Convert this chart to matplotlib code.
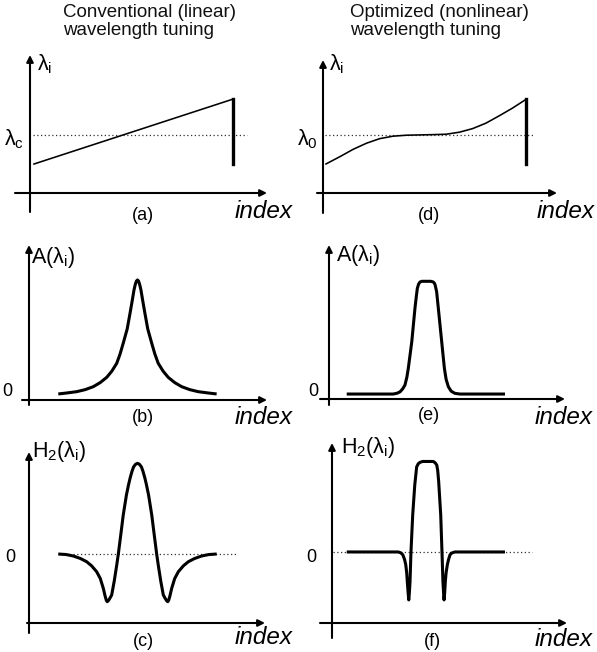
import matplotlib
matplotlib.use('Agg')
import matplotlib.pyplot as plt

plt.rcParams['font.family'] = ['Liberation Sans', 'DejaVu Sans']
plt.rcParams['mathtext.fontset'] = 'custom'
plt.rcParams['mathtext.rm'] = 'Liberation Sans'
plt.rcParams['mathtext.it'] = 'Liberation Sans:italic'

# --- data read off the schematic (index 0..100, normalised values) ---
# (a) conventional linear tuning
a_idx = [0, 100]
a_lam = [0.50, 1.62]
a_reset_idx = [100, 100]
a_reset_lam = [1.62, 0.50]

# (d) optimised nonlinear tuning
d_idx = [0, 6.95, 13.6, 20.2, 26.8, 33.4, 40.1, 46.7, 53.3, 60.0, 66.6, 73.2, 79.8, 86.4, 93.0, 100]
d_lam = [0.50, 0.626, 0.753, 0.857, 0.936, 0.978, 0.995, 1.0, 1.005, 1.012, 1.047, 1.109, 1.202, 1.328, 1.460, 1.616]
d_reset_idx = [100, 100]
d_reset_lam = [1.616, 0.50]

# (b) lorentzian-like amplitude
b_idx = [0, 5, 11.6, 17, 22.1, 26.5, 30.6, 33.8, 36.9, 39.0, 41.0, 43.5, 45.3, 46.7, 47.8, 48.6, 49.3, 50,
         50.7, 51.4, 52.2, 53.3, 54.7, 56.5, 59.0, 61.0, 63.1, 66.2, 69.4, 73.5, 77.9, 83, 88.4, 95, 100]
b_amp = [0.0, 0.008, 0.02, 0.038, 0.064, 0.10, 0.146, 0.20, 0.269, 0.35, 0.445, 0.57, 0.708, 0.82, 0.912, 0.96, 0.99, 1.0,
         0.99, 0.96, 0.912, 0.82, 0.708, 0.57, 0.445, 0.35, 0.269, 0.20, 0.146, 0.10, 0.064, 0.038, 0.02, 0.008, 0.0]

# (c) second derivative of (b)
c_idx = [0, 5, 9.5, 14, 17.9, 21, 24.2, 26.5, 28.4, 29.5, 30.3, 30.9, 31.6, 32.5, 33.7, 35.3, 36.9, 37.9,
         39.5, 41.0, 43.0, 44.3, 45.3, 46.5, 47.5, 48.8, 50,
         51.2, 52.5, 53.5, 54.7, 55.7, 57.0, 59.0, 60.5, 62.1, 63.1, 64.7, 66.3, 67.5, 68.4, 69.1, 69.7,
         70.5, 71.6, 73.5, 75.8, 79, 82.1, 86, 90.5, 95, 100]
c_h2 = [0, -0.006, -0.022, -0.05, -0.085, -0.13, -0.195, -0.27, -0.378, -0.46, -0.51, -0.526, -0.515, -0.49, -0.452, -0.30, -0.121, 0,
        0.22, 0.43, 0.65, 0.76, 0.835, 0.91, 0.96, 0.99, 1.0,
        0.99, 0.96, 0.91, 0.835, 0.76, 0.65, 0.43, 0.22, 0, -0.121, -0.30, -0.452, -0.49, -0.515, -0.526, -0.51,
        -0.46, -0.378, -0.27, -0.195, -0.13, -0.085, -0.05, -0.022, -0.006, 0]

# (e) flat-top amplitude
e_idx = [0, 29.4, 32.0, 33.7, 35.3, 36.8, 38.0, 38.9, 41.1, 43.1, 44.0, 44.6, 45.4, 46.3, 47.5, 53.0,
         54.5, 55.3, 55.8, 56.8, 58.3, 60.0, 61.7, 62.8, 64.2, 66.0, 68.4, 71.6, 100]
e_amp = [0, 0, 0.008, 0.02, 0.045, 0.08, 0.15, 0.228, 0.464, 0.76, 0.87, 0.937, 0.975, 0.994, 1.0, 1.0,
         0.995, 0.985, 0.97, 0.908, 0.701, 0.464, 0.228, 0.13, 0.065, 0.025, 0.006, 0, 0]

# (f) second derivative of (e)
f_idx = [0, 32.6, 34.2, 35.4, 36.5, 37.3, 37.9, 38.3, 38.8, 39.2, 39.6, 40.0, 40.6, 41.7, 43.0, 44.2, 45.2,
         46.3, 48.0, 54.7, 55.9, 56.9, 57.5, 58.1, 59.4, 60.2, 60.8, 61.2, 61.5, 61.9, 62.3, 62.8, 63.6,
         64.4, 65.3, 66.6, 68.4, 100]
f_h2 = [0, 0, -0.01, -0.03, -0.08, -0.14, -0.23, -0.33, -0.45, -0.53, -0.45, -0.33, 0, 0.41, 0.74, 0.94, 0.975,
        0.99, 1.0, 1.0, 0.985, 0.96, 0.90, 0.78, 0.41, 0, -0.33, -0.45, -0.53, -0.45, -0.33, -0.23, -0.14,
        -0.08, -0.03, -0.01, 0, 0]

W, H = 597, 652
fig = plt.figure(figsize=(W / 100, H / 100), dpi=100)

AX_LW = 1.5
CURVE_LW = 2.2
THIN_LW = 1.15


def px(x, y):
    return x / W, 1 - y / H


def panel(box, xlim, ylim, ext_left, ext_down):
    left, right, bottom, top = box
    w, h = right - left, bottom - top
    ax = fig.add_axes([left / W, 1 - bottom / H, w / W, h / H])
    ax.set_xlim(xlim)
    ax.set_ylim(ylim)
    ax.axis('off')
    arrow = dict(arrowstyle='-|>', lw=AX_LW, color='black', mutation_scale=10,
                 shrinkA=0, shrinkB=0)
    ax.annotate('', xy=(1, 0), xytext=(-ext_left / w, 0), xycoords='axes fraction',
                textcoords='axes fraction', arrowprops=arrow, annotation_clip=False)
    ax.annotate('', xy=(0, 1), xytext=(0, -ext_down / h), xycoords='axes fraction',
                textcoords='axes fraction', arrowprops=arrow, annotation_clip=False)
    return ax


def ref_line(ax, y, x0, x1):
    ax.plot([x0, x1], [y, y], color='#333333', lw=0.9, linestyle=(0, (1, 2)), clip_on=False)


curve_kw = dict(color='black', lw=CURVE_LW, solid_joinstyle='round', solid_capstyle='butt')

# panel (a)
ax_a = panel((30, 267, 193, 55), (-2.0, 117.0), (0, 2.38), 15, 19)
ref_line(ax_a, 1.0, -0.5, 107)
ax_a.plot(a_idx, a_lam, color='black', lw=THIN_LW)
ax_a.plot(a_reset_idx, a_reset_lam, color='black', lw=CURVE_LW + 0.2)

# panel (d)
ax_d = panel((323, 557, 193, 60), (-1.5, 115.3), (0, 2.29), 6, 20)
ref_line(ax_d, 1.0, -0.5, 104)
ax_d.plot(d_idx, d_lam, color='black', lw=THIN_LW, solid_joinstyle='round')
ax_d.plot(d_reset_idx, d_reset_lam, color='black', lw=CURVE_LW + 0.2)

# panel (b)
ax_b = panel((29, 267, 400, 245), (-18.5, 131.8), (-0.053, 1.307), 7, 5)
ax_b.plot(b_idx, b_amp, **curve_kw)

# panel (e)
ax_e = panel((329, 565, 399, 245), (-11.2, 137.9), (-0.044, 1.322), 9, 6)
ax_e.plot(e_idx, e_amp, **curve_kw)

# panel (c)
ax_c = panel((29, 265, 623, 452), (-18.5, 130.5), (-0.761, 1.125), 2, 10)
ref_line(ax_c, 0.0, 0, 112.7)
ax_c.plot(c_idx, c_h2, **curve_kw)

# panel (f)
ax_f = panel((332, 567, 623, 443), (-9.3, 139.2), (-0.785, 1.204), 12, 15)
ref_line(ax_f, 0.0, -8.7, 117)
ax_f.plot(f_idx, f_h2, **curve_kw)

# --- text ---
title_kw = dict(fontsize=13.5, va='top', ha='left', linespacing=1.05, color='#111111')
fig.text(*px(63, 4), 'Conventional (linear)\nwavelength tuning', **title_kw)
fig.text(*px(350, 4), 'Optimized (nonlinear)\nwavelength tuning', **title_kw)

lab_kw = dict(fontsize=15.5, va='center', ha='left')
fig.text(*px(37, 64), 'λ$_{\\mathrm{i}}$', **lab_kw)
fig.text(*px(329, 64), 'λ$_{\\mathrm{i}}$', **lab_kw)
fig.text(*px(4, 139), 'λ$_{\\mathrm{c}}$', **lab_kw)
fig.text(*px(297, 139), 'λ$_{\\mathrm{0}}$', **lab_kw)
fig.text(*px(31, 257), 'A(λ$_{\\mathrm{i}}$)', **lab_kw)
fig.text(*px(336, 255), 'A(λ$_{\\mathrm{i}}$)', **lab_kw)
fig.text(*px(32, 452), 'H$_{\\mathrm{2}}$(λ$_{\\mathrm{i}}$)', **lab_kw)
fig.text(*px(341, 448), 'H$_{\\mathrm{2}}$(λ$_{\\mathrm{i}}$)', **lab_kw)

zero_kw = dict(fontsize=13, va='center', ha='left')
fig.text(*px(2, 391), '0', **zero_kw)
fig.text(*px(308, 392), '0', **zero_kw)
fig.text(*px(5, 558), '0', **zero_kw)
fig.text(*px(306, 558), '0', **zero_kw)

tag_kw = dict(fontsize=13, va='center', ha='center')
fig.text(*px(143, 215), '(a)', **tag_kw)
fig.text(*px(429, 215), '(d)', **tag_kw)
fig.text(*px(143, 418), '(b)', **tag_kw)
fig.text(*px(429, 416), '(e)', **tag_kw)
fig.text(*px(143, 642), '(c)', **tag_kw)
fig.text(*px(432, 642), '(f)', **tag_kw)

idx_kw = dict(fontsize=17.5, style='italic', va='center', ha='left')
for x, y in [(235, 212), (537, 212), (235, 417), (535, 417), (235, 638), (535, 640)]:
    fig.text(*px(x, y), 'index', **idx_kw)

fig.savefig('out.png', dpi=100, facecolor='white')
